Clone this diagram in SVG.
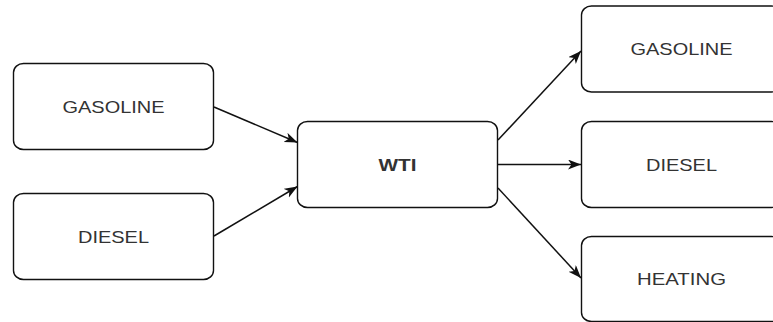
<svg xmlns="http://www.w3.org/2000/svg" width="773" height="322" viewBox="0 0 773 322">
<style>
.box{fill:#fff;stroke:#111;stroke-width:1.4}
.lbl{font-family:"Liberation Sans",Arial,sans-serif;font-size:17px;fill:#333;text-anchor:middle}
.b{font-weight:bold}
.edge{fill:none;stroke:#111;stroke-width:1.5;marker-end:url(#arr)}
</style>
<defs>
<marker id="arr" markerUnits="userSpaceOnUse" markerWidth="14" markerHeight="12" refX="13" refY="5" orient="auto">
<path d="M0,0 L13,5 L0,10 L3.5,5 z" fill="#111"/>
</marker>
</defs>
<rect width="773" height="322" fill="#fff"/>
<g id="in-gasoline"><rect class="box" x="13.5" y="63.5" width="200" height="86" rx="10" ry="9"/><text class="lbl" x="113.5" y="112.5" textLength="102" lengthAdjust="spacingAndGlyphs">GASOLINE</text></g>
<g id="in-diesel"><rect class="box" x="13.5" y="193.5" width="200" height="86" rx="10" ry="9"/><text class="lbl" x="113.5" y="242.5" textLength="71" lengthAdjust="spacingAndGlyphs">DIESEL</text></g>
<g id="wti"><rect class="box" x="297.5" y="121.5" width="200" height="86" rx="10" ry="9"/><text class="lbl b" x="397.5" y="170.5" textLength="38" lengthAdjust="spacingAndGlyphs">WTI</text></g>
<g id="out-gasoline"><rect class="box" x="581.5" y="6" width="200" height="86" rx="10" ry="9"/><text class="lbl" x="681.5" y="55" textLength="102" lengthAdjust="spacingAndGlyphs">GASOLINE</text></g>
<g id="out-diesel"><rect class="box" x="581.5" y="121.5" width="200" height="86" rx="10" ry="9"/><text class="lbl" x="681.5" y="170.5" textLength="71" lengthAdjust="spacingAndGlyphs">DIESEL</text></g>
<g id="out-heating"><rect class="box" x="581.5" y="236.5" width="200" height="85" rx="10" ry="9"/><text class="lbl" x="681.5" y="285" textLength="89" lengthAdjust="spacingAndGlyphs">HEATING</text></g>
<g id="connectors">
<line class="edge" x1="214" y1="107" x2="297.5" y2="142.5"/>
<line class="edge" x1="214" y1="236" x2="297.5" y2="186.5"/>
<line class="edge" x1="498" y1="140" x2="581" y2="51"/>
<line class="edge" x1="498" y1="164.5" x2="581" y2="164.5"/>
<line class="edge" x1="498" y1="188" x2="581" y2="278"/>
</g>
</svg>
